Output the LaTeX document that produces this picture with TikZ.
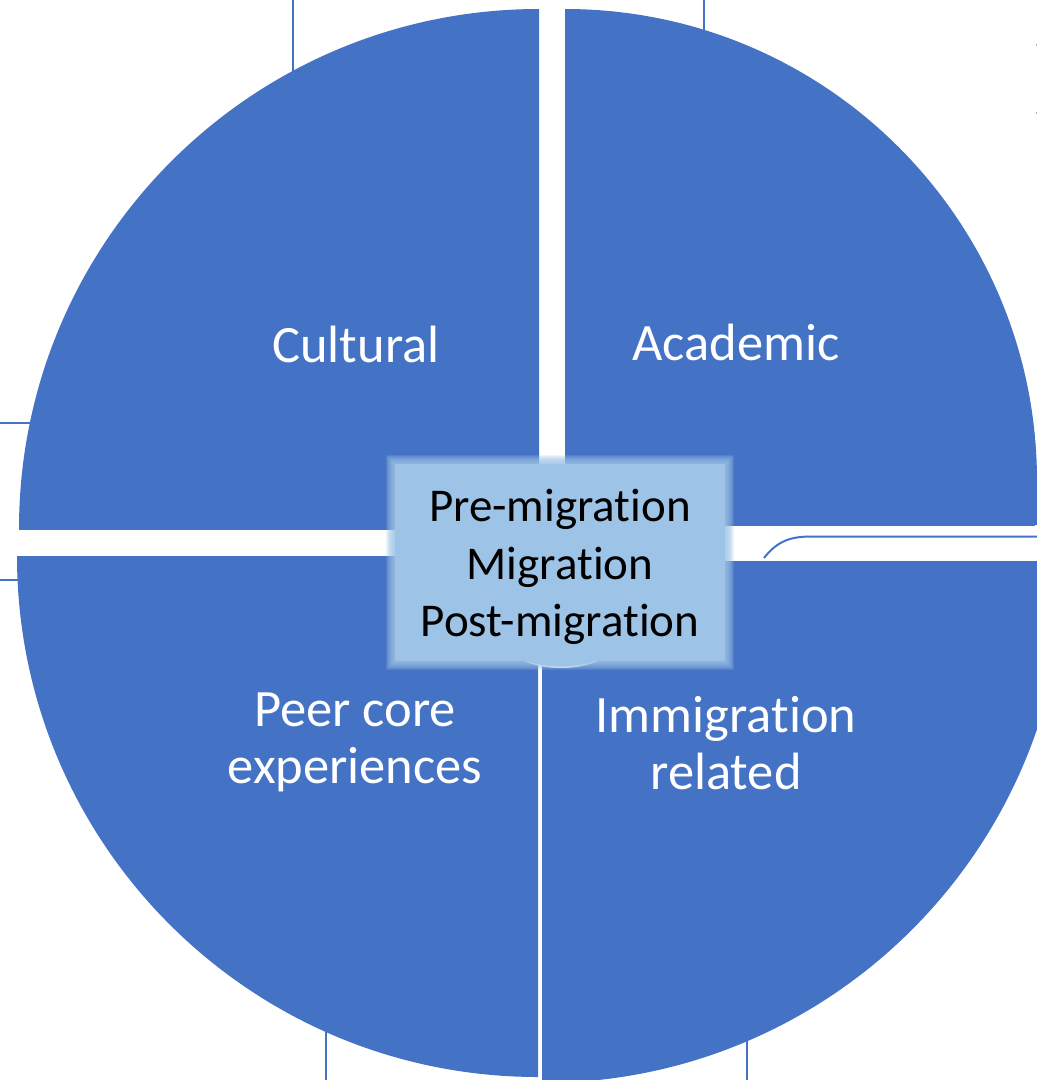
\documentclass[tikz,border=0pt]{standalone}
\usepackage{fontspec}
\setmainfont{Carlito}[Ligatures=NoCommon]
\definecolor{qblue}{HTML}{4472C4}
\definecolor{lblue}{HTML}{9DC3E6}
\begin{document}
\begin{tikzpicture}[x=1pt,y=-1pt,
  quad/.style={fill=qblue},
  conn/.style={draw=qblue, line width=2.4pt},
  lab/.style={text=white, font=\fontsize{52.5}{57}\selectfont, align=center, inner sep=0pt},
  clab/.style={text=black, font=\fontsize{47}{57.5}\selectfont, align=center, inner sep=0pt}]
\useasboundingbox (0,0) rectangle (1037,1080);
\clip (0,0) rectangle (1037,1080);
% thin connector stubs (partly hidden shapes)
\draw[conn] (293,-5) -- (293,90);
\draw[conn] (704,-5) -- (704,45);
\draw[conn] (-5,423) -- (40,423);
\draw[conn] (-5,580) -- (30,580);
\draw[conn] (326,1020) -- (326,1085);
\draw[conn] (747,1030) -- (747,1085);
% quadrants
\begin{scope}
  \clip (0,0) rectangle (539,529);
  \fill[quad] (539,529) circle (520pt);
\end{scope}
\begin{scope}
  \clip (565,0) rectangle (1037,525);
  \fill[quad] (565,481) circle (472pt);
  \fill[quad] (565,481) rectangle (1100,525);
\end{scope}
\begin{scope}
  \clip (0,556) rectangle (538,1080);
  \fill[quad] (538,556) circle (521pt);
\end{scope}
\begin{scope}
  \clip (542,561) rectangle (1037,1080);
  \fill[quad] (542,560) circle (523pt);
\end{scope}
% thin arc in the right gap
\coordinate (arcA) at (764,558);
\coordinate (arcB) at (1045,536.5);
\draw[conn, line width=2pt] (arcA) .. controls (778,540) and (792,536.5) .. (812,536.5) -- (arcB);
% small cap below the centre box
\fill[lblue] (509,650) .. controls (530,673) and (592,673) .. (613,650) -- cycle;
\draw[white, opacity=.85, line width=1.5pt] (509,650) .. controls (530,673) and (592,673) .. (613,650);
% centre box with soft edge
\foreach \i in {0,...,8}
  \fill[lblue, opacity=.18] ({386+\i},{455+\i}) rectangle ({734-\i},{670-\i});
\fill[lblue] (395,464) rectangle (725,661);
% bullets at the right edge
\fill[black] (1041,45) circle (4.5pt);
\fill[black] (1041,113) circle (4.5pt);
% labels
\node[lab, anchor=base] (cult) at (356,362) {Cultural};
\node[lab, anchor=base] (acad) at (736,360) {Academic};
\node[lab] (peer) at (355,742) {Peer core\\experiences};
\node[lab] (immi) at (726,743) {Immigration\\related};
\node[clab] (mig) at (560,567) {Pre-migration\\Migration\\Post-migration};
\end{tikzpicture}
\end{document}
